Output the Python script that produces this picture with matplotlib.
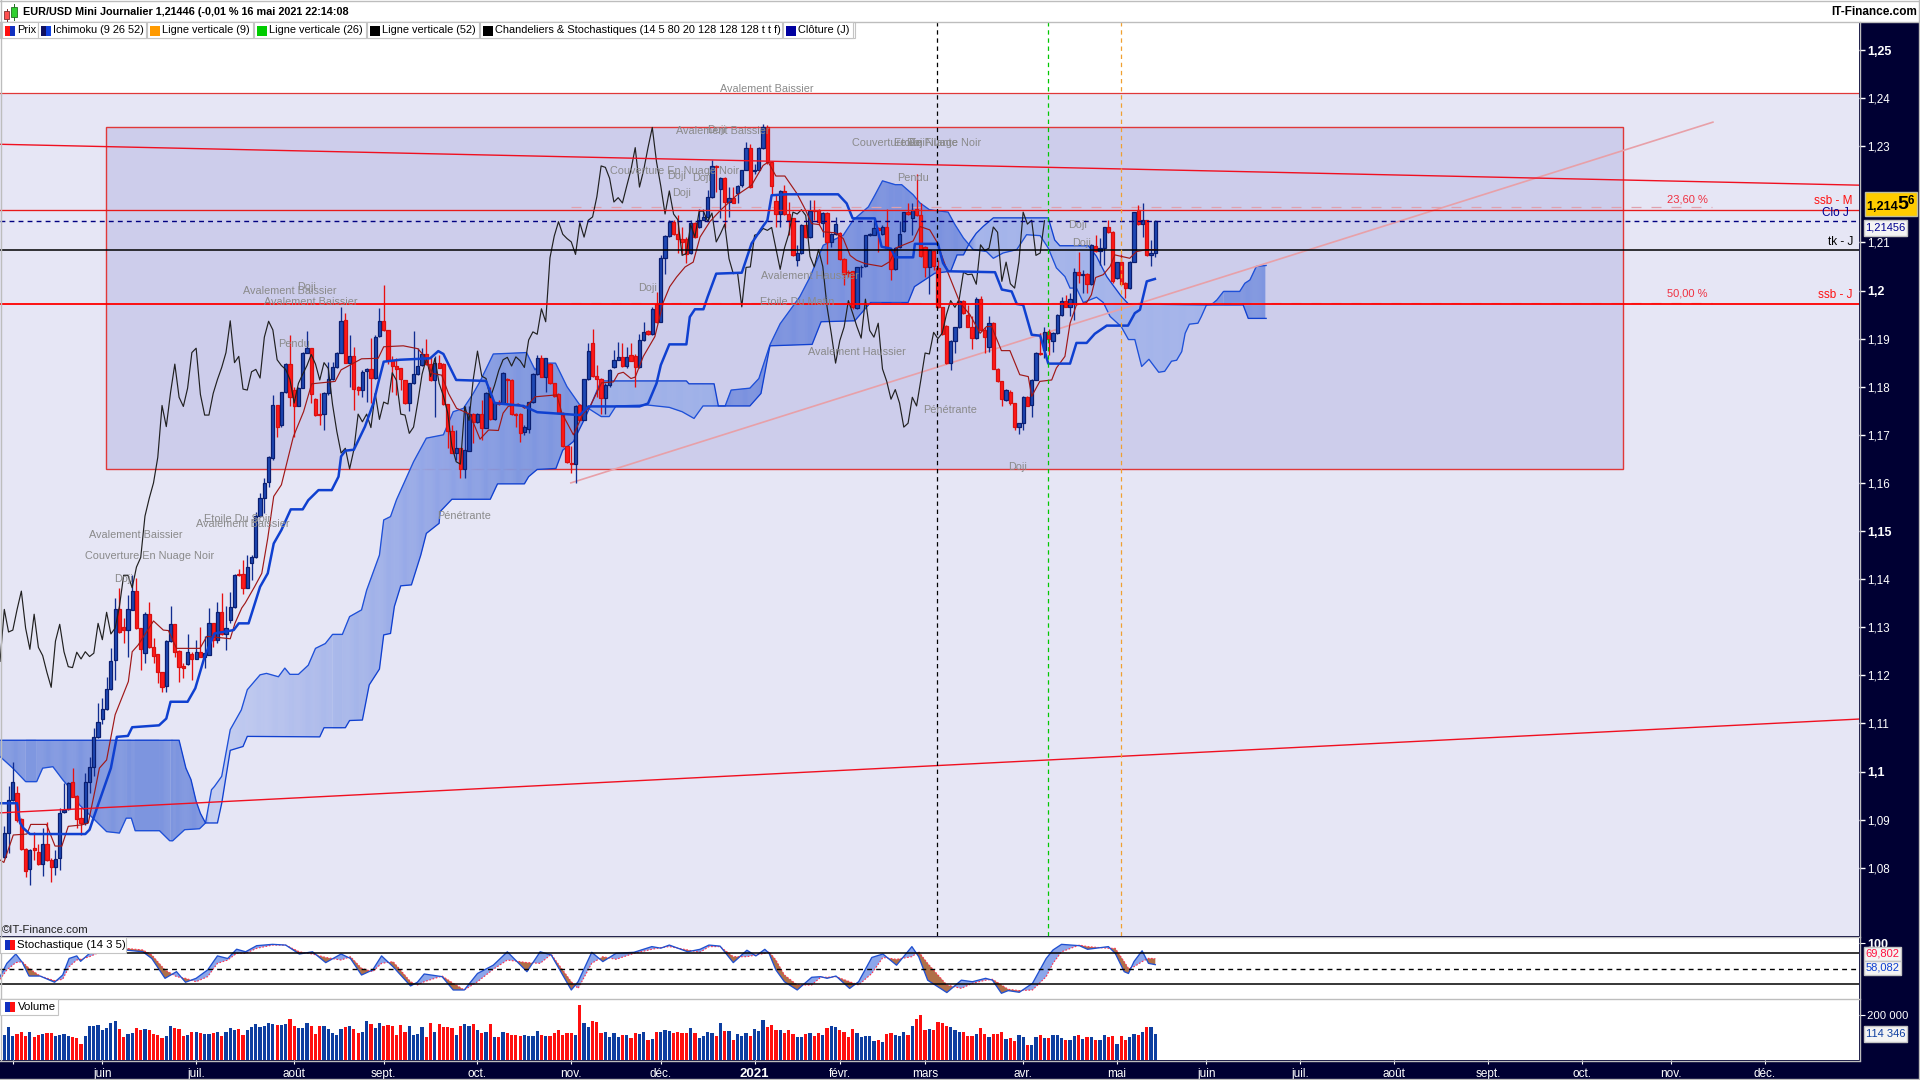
import numpy as np
import matplotlib
matplotlib.use("Agg")
import matplotlib.pyplot as plt
from matplotlib.collections import PolyCollection, LineCollection
from matplotlib.patches import Rectangle
from matplotlib.colors import to_rgb

plt.rcParams['font.family'] = ['Liberation Sans', 'DejaVu Sans']

# ---------- candles (EUR/USD daily) ----------
opens = [
1.0823,1.0872,1.0940,1.0955,1.0901,1.0838,1.0797,1.0840,1.0832,1.0807,
1.0849,1.0816,1.0801,1.0820,1.0915,1.0922,1.0978,1.0949,1.0903,1.0893,
1.0979,1.1010,1.1071,1.1110,1.1130,1.1171,1.1231,1.1337,1.1300,1.1294,
1.1336,1.1375,1.1298,1.1246,1.1327,1.1258,1.1244,1.1206,1.1177,1.1272,
1.1306,1.1250,1.1219,1.1223,1.1245,1.1233,1.1249,1.1239,1.1243,1.1308,
1.1274,1.1331,1.1286,1.1314,1.1343,1.1411,1.1410,1.1382,1.1434,1.1445,
1.1531,1.1568,1.1601,1.1651,1.1761,1.1720,1.1788,1.1847,1.1793,1.1759,
1.1797,1.1871,1.1880,1.1774,1.1743,1.1743,1.1786,1.1815,1.1840,1.1871,
1.1939,1.1850,1.1863,1.1800,1.1793,1.1832,1.1836,1.1818,1.1906,1.1936,
1.1918,1.1856,1.1844,1.1838,1.1813,1.1766,1.1807,1.1826,1.1845,1.1867,
1.1847,1.1813,1.1850,1.1847,1.1763,1.1707,1.1662,1.1672,1.1629,1.1667,
1.1743,1.1727,1.1743,1.1714,1.1783,1.1732,1.1769,1.1766,1.1815,1.1814,
1.1743,1.1743,1.1705,1.1712,1.1768,1.1826,1.1859,1.1821,1.1847,1.1807,
1.1785,1.1746,1.1677,1.1642,1.1639,1.1761,1.1730,1.1815,1.1890,1.1822,
1.1817,1.1777,1.1803,1.1841,1.1856,1.1862,1.1843,1.1865,1.1863,1.1840,
1.1897,1.1915,1.1909,1.1971,1.1935,1.2068,1.2113,1.2143,1.2118,1.2108,
1.2108,1.2077,1.2141,1.2131,1.2147,1.2153,1.2195,1.2259,1.2210,1.2233,
1.2184,1.2193,1.2203,1.2219,1.2251,1.2297,1.2248,1.2251,1.2297,1.2339,
1.2267,1.2186,1.2159,1.2207,1.2159,1.2150,1.2064,1.2077,1.2137,1.2111,
1.2168,1.2167,1.2141,1.2161,1.2101,1.2118,1.2120,1.2066,1.2039,1.2040,
1.1964,1.2048,1.2050,1.2115,1.2116,1.2129,1.2118,1.2132,1.2085,1.2044,
1.2090,1.2123,1.2164,1.2151,1.2169,1.2156,1.2090,1.2049,1.2083,1.2047,
1.1966,1.1927,1.1849,1.1894,1.1924,1.1979,1.1950,1.1925,1.1901,1.1982,
1.1917,1.1882,1.1932,1.1837,1.1811,1.1773,1.1788,1.1766,1.1716,1.1724,
1.1778,1.1761,1.1814,1.1871,1.1877,1.1913,1.1896,1.1911,1.1950,1.1979,
1.1965,1.1972,1.2038,1.2033,1.2034,1.2013,1.2093,1.2083,1.2088,1.2132,
1.2121,1.2026,1.2059,1.2015,1.2005,1.2060,1.2168,1.2138,1.2146,1.2073,
1.2078]
closes = [
1.0873,1.0940,1.0978,1.0899,1.0838,1.0794,1.0837,1.0836,1.0807,1.0849,
1.0815,1.0801,1.0818,1.0913,1.0920,1.0977,1.0948,1.0901,1.0893,1.0979,
1.1010,1.1071,1.1102,1.1130,1.1171,1.1229,1.1337,1.1290,1.1294,1.1337,
1.1375,1.1298,1.1254,1.1327,1.1258,1.1241,1.1206,1.1175,1.1271,1.1306,
1.1249,1.1218,1.1216,1.1248,1.1234,1.1249,1.1239,1.1246,1.1308,1.1274,
1.1331,1.1286,1.1298,1.1343,1.1408,1.1408,1.1382,1.1425,1.1445,1.1531,
1.1568,1.1600,1.1653,1.1761,1.1717,1.1788,1.1847,1.1778,1.1759,1.1797,
1.1871,1.1880,1.1784,1.1741,1.1741,1.1786,1.1815,1.1840,1.1871,1.1937,
1.1850,1.1863,1.1795,1.1793,1.1831,1.1836,1.1818,1.1903,1.1936,1.1918,
1.1856,1.1844,1.1836,1.1815,1.1766,1.1807,1.1826,1.1844,1.1867,1.1847,
1.1814,1.1850,1.1838,1.1763,1.1707,1.1662,1.1672,1.1629,1.1669,1.1743,
1.1727,1.1743,1.1715,1.1786,1.1732,1.1768,1.1764,1.1829,1.1813,1.1743,
1.1741,1.1703,1.1716,1.1768,1.1826,1.1859,1.1821,1.1859,1.1807,1.1781,
1.1746,1.1676,1.1644,1.1639,1.1759,1.1730,1.1815,1.1874,1.1822,1.1817,
1.1777,1.1803,1.1834,1.1856,1.1861,1.1843,1.1862,1.1854,1.1840,1.1897,
1.1914,1.1909,1.1962,1.1935,1.2068,1.2113,1.2143,1.2117,1.2108,1.2101,
1.2075,1.2141,1.2111,1.2146,1.2153,1.2195,1.2259,1.2256,1.2233,1.2184,
1.2193,1.2182,1.2217,1.2251,1.2297,1.2215,1.2251,1.2297,1.2339,1.2267,
1.2217,1.2159,1.2207,1.2159,1.2147,1.2073,1.2077,1.2137,1.2111,1.2165,
1.2165,1.2143,1.2161,1.2101,1.2118,1.2138,1.2066,1.2035,1.2037,1.1966,
1.2048,1.2049,1.2115,1.2118,1.2129,1.2125,1.2131,1.2088,1.2044,1.2088,
1.2117,1.2163,1.2159,1.2168,1.2156,1.2071,1.2049,1.2085,1.2050,1.1966,
1.1910,1.1849,1.1896,1.1924,1.1979,1.1953,1.1925,1.1901,1.1982,1.1917,
1.1903,1.1932,1.1837,1.1811,1.1774,1.1794,1.1766,1.1716,1.1724,1.1778,
1.1760,1.1814,1.1870,1.1868,1.1913,1.1900,1.1911,1.1950,1.1979,1.1965,
1.1982,1.2038,1.2033,1.2034,1.2013,1.2095,1.2083,1.2088,1.2132,1.2121,
1.2019,1.2059,1.2014,1.2005,1.2060,1.2163,1.2138,1.2146,1.2073,1.2078,
1.2145]
highs = [
1.0886,1.0970,1.1019,1.0969,1.0903,1.0841,1.0838,1.0875,1.0850,1.0882,
1.0894,1.0820,1.0837,1.0924,1.0976,1.0979,1.1007,1.0951,1.0927,1.0996,
1.1031,1.1090,1.1142,1.1152,1.1197,1.1256,1.1360,1.1381,1.1319,1.1367,
1.1409,1.1402,1.1298,1.1331,1.1352,1.1277,1.1245,1.1206,1.1274,1.1345,
1.1306,1.1252,1.1225,1.1286,1.1248,1.1274,1.1300,1.1281,1.1340,1.1308,
1.1352,1.1371,1.1345,1.1373,1.1411,1.1420,1.1440,1.1450,1.1450,1.1540,
1.1578,1.1610,1.1655,1.1783,1.1762,1.1790,1.1849,1.1908,1.1800,1.1799,
1.1873,1.1916,1.1880,1.1776,1.1786,1.1788,1.1852,1.1852,1.1873,1.1965,
1.1953,1.1908,1.1883,1.1802,1.1835,1.1838,1.1901,1.1908,1.1963,1.2012,
1.1918,1.1864,1.1859,1.1838,1.1814,1.1807,1.1916,1.1880,1.1880,1.1899,
1.1863,1.1863,1.1866,1.1849,1.1764,1.1721,1.1710,1.1672,1.1759,1.1759,
1.1745,1.1745,1.1772,1.1790,1.1800,1.1769,1.1772,1.1831,1.1818,1.1815,
1.1745,1.1745,1.1721,1.1769,1.1828,1.1866,1.1866,1.1860,1.1849,1.1807,
1.1786,1.1748,1.1677,1.1676,1.1762,1.1765,1.1817,1.1890,1.1919,1.1845,
1.1819,1.1807,1.1836,1.1876,1.1893,1.1890,1.1883,1.1890,1.1869,1.1910,
1.1935,1.1917,1.1966,1.1997,1.2073,1.2115,1.2146,1.2146,1.2156,1.2132,
1.2111,1.2146,1.2143,1.2170,1.2170,1.2208,1.2272,1.2260,1.2235,1.2236,
1.2215,1.2215,1.2219,1.2251,1.2309,1.2305,1.2264,1.2299,1.2347,1.2344,
1.2269,1.2198,1.2208,1.2219,1.2184,1.2151,1.2094,1.2139,1.2139,1.2188,
1.2188,1.2170,1.2163,1.2163,1.2120,1.2153,1.2122,1.2068,1.2042,1.2041,
1.2049,1.2052,1.2116,1.2120,1.2146,1.2132,1.2136,1.2169,1.2088,1.2090,
1.2144,1.2164,1.2182,1.2182,1.2243,1.2182,1.2093,1.2086,1.2085,1.2064,
1.1966,1.1929,1.1898,1.1925,1.1981,1.1981,1.1970,1.1946,1.1986,1.1988,
1.1925,1.1947,1.1934,1.1839,1.1812,1.1795,1.1794,1.1767,1.1724,1.1780,
1.1780,1.1816,1.1873,1.1911,1.1925,1.1920,1.1913,1.1951,1.1986,1.1991,
1.1995,1.2047,1.2081,1.2043,1.2036,1.2097,1.2116,1.2109,1.2133,1.2147,
1.2124,1.2060,1.2076,1.2017,1.2062,1.2164,1.2178,1.2182,1.2147,1.2105,
1.2146]
lows = [
1.0820,1.0830,1.0938,1.0896,1.0837,1.0780,1.0763,1.0816,1.0806,1.0782,
1.0813,1.0771,1.0785,1.0796,1.0913,1.0920,1.0947,1.0882,1.0868,1.0889,
1.0955,1.0990,1.1069,1.1099,1.1128,1.1170,1.1191,1.1288,1.1267,1.1239,
1.1336,1.1296,1.1210,1.1225,1.1256,1.1225,1.1185,1.1166,1.1166,1.1270,
1.1239,1.1187,1.1194,1.1222,1.1191,1.1233,1.1239,1.1215,1.1242,1.1258,
1.1267,1.1284,1.1252,1.1308,1.1340,1.1407,1.1369,1.1381,1.1398,1.1443,
1.1530,1.1538,1.1592,1.1648,1.1696,1.1717,1.1786,1.1759,1.1696,1.1759,
1.1797,1.1870,1.1766,1.1739,1.1721,1.1710,1.1783,1.1814,1.1838,1.1870,
1.1849,1.1800,1.1752,1.1783,1.1779,1.1769,1.1766,1.1815,1.1904,1.1915,
1.1847,1.1790,1.1783,1.1793,1.1764,1.1750,1.1806,1.1824,1.1842,1.1845,
1.1811,1.1737,1.1838,1.1762,1.1672,1.1662,1.1648,1.1610,1.1610,1.1667,
1.1682,1.1724,1.1689,1.1714,1.1731,1.1731,1.1762,1.1764,1.1766,1.1741,
1.1717,1.1686,1.1700,1.1703,1.1766,1.1824,1.1820,1.1788,1.1806,1.1779,
1.1745,1.1674,1.1642,1.1620,1.1600,1.1730,1.1730,1.1813,1.1820,1.1779,
1.1744,1.1744,1.1800,1.1838,1.1856,1.1840,1.1838,1.1854,1.1800,1.1838,
1.1895,1.1907,1.1907,1.1933,1.1935,1.2035,1.2111,1.2115,1.2077,1.2075,
1.2057,1.2075,1.2110,1.2130,1.2146,1.2147,1.2193,1.2205,1.2150,1.2129,
1.2152,1.2181,1.2182,1.2215,1.2250,1.2213,1.2243,1.2250,1.2295,1.2264,
1.2198,1.2131,1.2132,1.2158,1.2115,1.2071,1.2051,1.2075,1.2110,1.2110,
1.2146,1.2136,1.2111,1.2056,1.2091,1.2115,1.2064,1.2011,1.2028,1.1962,
1.1962,1.2028,1.2049,1.2114,1.2115,1.2080,1.2115,1.2086,1.2021,1.2043,
1.2088,1.2121,1.2157,1.2116,1.2155,1.2069,1.2028,1.1993,1.2043,1.1963,
1.1908,1.1847,1.1834,1.1870,1.1922,1.1951,1.1924,1.1879,1.1900,1.1915,
1.1871,1.1873,1.1837,1.1809,1.1760,1.1771,1.1762,1.1709,1.1702,1.1709,
1.1759,1.1737,1.1813,1.1866,1.1859,1.1865,1.1873,1.1910,1.1948,1.1965,
1.1948,1.1939,1.2015,1.1995,1.1995,1.2012,1.2081,1.2053,1.2053,1.2119,
1.2015,1.2024,1.2012,1.1984,1.2004,1.2059,1.2137,1.2111,1.2072,1.2050,
1.2069]

# ---------- Ichimoku, read at the visible knots ----------
tenkan_x = [-1,-0.1,2.1,5.3,6.2,9.9,11.9,13.5,15,18.2,19.7,21.3,22.3,24,26,29.1,30,31.4,35,37.3,38.5,40.4,45.9,47.5,53,54.1,55.7,56.5,58.7,60.4,61.8,63.2,65,67.8,70.2,72.1,77.6,79,83.8,87.7,89,93.6,97,98.3,100.3,102.6,104.2,106.1,109.2,111.6,113.6,115.9,117,118.2,120.6,122.1,124.5,129.6,130.8,133.5,135.8,137.4,140.1,142.9,144,145.2,147,148,149.9,152.6,154.6,156.1,157.7,159.7,161.6,163.2,165.5,167.9,171.8,175.3,178,179.2,181,183.1,185.9,187.8,189.4,191.2,192.1,194.9,196.8,198.4,199.9,201.9,205.8,207.7,209.3,213.2,214.8,217.1,218.7,221.4,224.2,226.5,228.9,230.4,231.6,233.9,235.9,238.2,240.2,241,242.9,245.7,246.8,248.8,250,251.5,253.9,255,256,257.8,259.4,260.5,264,265.6,268,270]
tenkan_y = [1.0816,1.0811,1.0868,1.0870,1.0890,1.0890,1.0845,1.0845,1.0886,1.0889,1.0893,1.0962,1.1007,1.1024,1.1118,1.1187,1.1249,1.1263,1.1313,1.1294,1.1293,1.1256,1.1256,1.1281,1.1276,1.1308,1.1340,1.1350,1.1384,1.1412,1.1485,1.1572,1.1596,1.1696,1.1748,1.1806,1.1811,1.1835,1.1858,1.1859,1.1883,1.1885,1.1879,1.1866,1.1828,1.1824,1.1786,1.1755,1.1743,1.1691,1.1710,1.1709,1.1745,1.1759,1.1764,1.1755,1.1779,1.1783,1.1745,1.1700,1.1744,1.1759,1.1808,1.1810,1.1827,1.1830,1.1817,1.1820,1.1863,1.1904,1.1976,1.2008,1.2028,1.2049,1.2059,1.2111,1.2143,1.2166,1.2198,1.2219,1.2260,1.2267,1.2238,1.2238,1.2202,1.2170,1.2139,1.2137,1.2122,1.2120,1.2108,1.2073,1.2063,1.2056,1.2050,1.2060,1.2089,1.2103,1.2133,1.2126,1.2102,1.2036,1.1974,1.1950,1.1911,1.1925,1.1925,1.1875,1.1875,1.1825,1.1821,1.1780,1.1811,1.1814,1.1839,1.1863,1.1932,1.1970,1.1975,1.1991,1.2027,1.2033,1.2050,1.2074,1.2067,1.2081,1.2085,1.2085]
kijun_x = [-1,3,3.7,4.5,6,19,20,21.3,25,26.4,29,30,36.3,38,39,43,44.8,47,49.3,53.8,55,57.3,60,61.8,63.2,65,67.2,70,71.3,73.7,76.8,78.4,79,80,82,84.6,86.6,87.7,89,92.8,99.9,101.8,103,106,113,115,121.8,125,130,135,137,149,151,153,154,156,160,160.8,162,164,165,167,173,175.3,178,179,180,183.5,195.6,197.6,199,204.2,205.8,208,209,213.2,213.6,219,220.2,221.4,232.4,234,236.3,237.5,239,241,243,244.9,250,251.5,253.9,255.8,258.6,263.6,265.2,266.4,268,269.9]
kijun_y = [1.0934,1.0934,1.0893,1.0882,1.0870,1.0870,1.0879,1.0913,1.1007,1.1072,1.1074,1.1092,1.1096,1.1110,1.1145,1.1145,1.1173,1.1239,1.1287,1.1294,1.1308,1.1308,1.1384,1.1412,1.1474,1.1502,1.1545,1.1545,1.1564,1.1585,1.1585,1.1613,1.1655,1.1667,1.1669,1.1717,1.1766,1.1807,1.1852,1.1856,1.1859,1.1874,1.1868,1.1814,1.1812,1.1766,1.1760,1.1747,1.1744,1.1741,1.1759,1.1759,1.1765,1.1807,1.1845,1.1888,1.1888,1.1945,1.1961,1.1961,1.1987,1.2035,1.2037,1.2098,1.2134,1.2146,1.2198,1.2200,1.2200,1.2181,1.2150,1.2150,1.2091,1.2087,1.2069,1.2069,1.2097,1.2097,1.2057,1.2040,1.2038,1.2002,1.1998,1.1972,1.1970,1.1908,1.1906,1.1848,1.1848,1.1891,1.1891,1.1910,1.1927,1.1927,1.1953,1.1960,1.2019,1.2024]
ssa_x = [-1,2,5,7.6,9,11.4,13.7,15.7,17.6,20.8,24,27,28.6,29.8,30.7,36.4,38.8,39.5,42.3,45.8,47.2,48.6,49.3,51,53,55.6,57,60,61.5,64.3,65.8,67,69,71.3,73,75.3,77,79.3,81,83.8,85,88,89,90.6,92,96,99,103,105.3,107.7,110,111.6,114.7,122.5,124.5,125.7,129.3,132,135,137,140,141.9,143.5,150.8,156,159,161.8,163.9,169.1,170.5,174.9,177,179.6,182,184.3,186.6,189,192.1,194.5,196.8,199.1,202.7,204.2,206,209,210.5,213.2,214.8,217,221.4,223,225,227.3,230.4,232,234.3,237.5,239.8,243,244.9,246.8,248.8,250,251.5,253.1,256.2,257.8,259.4,262,263.7,265.2,266.8,268.5,270.8,272.2,273.8,275,276.2,277,278,280,280.8,282,283.2,284.4,286,288.3,289.8,291,292.2,293.7,296]
ssa_y = [1.1031,1.1007,1.0979,1.0979,1.1007,1.1010,1.0983,1.0962,1.0931,1.0903,1.0875,1.0872,1.0903,1.0903,1.0877,1.0877,1.0856,1.0856,1.0879,1.0881,1.0893,1.0962,1.0969,1.0990,1.1087,1.1128,1.1170,1.1201,1.1204,1.1197,1.1215,1.1202,1.1202,1.1221,1.1256,1.1266,1.1285,1.1285,1.1322,1.1336,1.1377,1.1450,1.1523,1.1530,1.1565,1.1644,1.1693,1.1700,1.1748,1.1755,1.1786,1.1811,1.1868,1.1871,1.1835,1.1849,1.1849,1.1800,1.1762,1.1755,1.1738,1.1738,1.1760,1.1762,1.1757,1.1748,1.1734,1.1760,1.1760,1.1793,1.1797,1.1817,1.1887,1.1931,1.1959,1.1987,1.2028,1.2094,1.2105,1.2115,1.2146,1.2174,1.2198,1.2228,1.2220,1.2220,1.2199,1.2182,1.2168,1.2163,1.2137,1.2109,1.2085,1.2081,1.2067,1.2078,1.2085,1.2116,1.2114,1.2088,1.2047,1.2029,1.2005,1.2005,1.1975,1.1986,1.1975,1.1946,1.1925,1.1898,1.1898,1.1842,1.1857,1.1830,1.1832,1.1853,1.1855,1.1873,1.1911,1.1930,1.1932,1.1946,1.1970,1.1971,1.1980,1.1998,1.1998,1.1998,1.2015,1.2022,1.2050,1.2052]
ssb_x = [-1,41,42.6,43.8,45,46,47.2,50,51,53,56,57,74,75,80,81,84,85.6,88,89,90.6,91.5,93,95.5,97.7,99,102,102.2,105,114,115.7,122,123,125,129.4,131,133.5,136,137.4,140,160,160.6,166.5,167.5,174.9,177.5,179.6,189.5,191.6,199.5,203.2,212,213.5,218.3,222,223.5,225,226.5,228,229.6,232,244.9,246.4,247.6,254.3,256.2,258.6,260,262,263.7,282,290.6,291.8,296]
ssb_y = [1.1065,1.1065,1.1007,1.0983,1.0938,1.0913,1.0893,1.0893,1.0934,1.1044,1.1052,1.1073,1.1072,1.1091,1.1091,1.1106,1.1107,1.1180,1.1213,1.1284,1.1287,1.1343,1.1386,1.1388,1.1450,1.1495,1.1516,1.1540,1.1566,1.1566,1.1598,1.1598,1.1613,1.1628,1.1630,1.1668,1.1686,1.1731,1.1758,1.1812,1.1812,1.1806,1.1806,1.1760,1.1760,1.1786,1.1885,1.1888,1.1935,1.1937,1.1975,1.1975,1.2008,1.2036,1.2040,1.2074,1.2074,1.2100,1.2119,1.2133,1.2151,1.2151,1.2105,1.2093,1.2093,1.2071,1.2029,1.2012,1.1988,1.1972,1.1970,1.1970,1.1942,1.1942]

# ---------- levels and trend lines ----------
level_top = 1.2410
level_ssb_m = 1.2168
level_clo_j = 1.2145
level_tk_j = 1.2084
level_ssb_j = 1.1971
fibo_236 = 1.2173
fibo_500 = 1.1975
zone_low, zone_high = 1.1628, 1.2339
zone_start, zone_end = 23.86, 379.7
fibo_start, fibo_end = 132.9, 400.5
trend_x = [-1, 435]
trend_down = [1.2304, 1.2219]
trend_up = [1.0914, 1.1109]
pink_x = [132.9, 400.8]
pink_y = [1.1600, 1.2350]
vline_52, vline_26, vline_9 = 218.9, 244.9, 262.0

# ---------- stochastic ----------
stoch_x = [-1,0.6,2.7,4.2,5.8,8.4,11.8,13.7,15.2,17,17.9,20,22.6,28.3,32.5,34.6,37.7,40.4,42.5,45,47.7,50,52.4,54.5,56.6,59.2,62.9,66,69.2,72.3,75.4,79,81.2,83.8,86.4,88.5,91.2,95.3,96.9,98.5,102.7,105.3,107.9,111,114.7,118,122.6,125.7,128.3,133,134.6,137.8,140.4,143.5,147.7,151.9,154,156,160.3,163.2,
165.3,167.9,171,174.2,176.3,178.4,179.4,181,183,186,189.4,191.5,193,195.1,198.3,200.4,203.5,206.1,209.3,212.9,214.5,216.6,221.1,224.5,227.1,230.2,231.8,233.9,235.5,238.1,241.2,244.4,246,248,252.2,254.1,259,260.6,262.7,263.7,265,266.9,268.4,270]
stoch_k = [34.8,60.6,78.7,62.6,36,36,24,38,70,75,64.5,80,90,86.5,83,70,31.6,44.5,24,31.6,47.8,75,70,88,83,94.8,97.4,96,78.7,83,62,78.7,70,38,47.8,75,54,16.8,24,40,34.8,9,9,41,57,83,44.5,83,76.8,9,25,82,64,80,82,93,90,96,83,87.8,
96,94,62,86,75,87.8,80,47.8,25,9,33.6,34.8,31.6,36,12,25,72,78.7,57,93,73.5,28,4,28,25,31.6,28,2.6,7.8,4.5,22,70,86.5,97.4,94.8,87.8,93,80,44.5,41,64,85,60.6,58.08]
stoch_d = [29.7,47.8,62,63.9,51,36,27,29.7,54,67,68.4,73.5,83,89.7,86.5,76.8,47.8,34.8,31.6,25,34.8,60.6,67,80,80,89.7,96,96,83,78.7,72,67,73.5,51,44.5,60.6,63.9,25,18.7,25,36,22,9,25,49,67,62,60.6,78,25,12,60.6,73.5,68.4,80,87.8,91,93,86.5,82,
93,93,73.5,73.5,76.8,80,83,67,38,18.7,18.7,33.6,33.6,34.8,25,18.7,41,72,68.4,73.5,83,60.6,18.7,12,22,28,29.7,18.7,10.3,7.8,9,34.8,60.6,83,96,93,89.7,89.7,63.9,51,54,63.9,70.3,69.8]

# ---------- volume, thousands ----------
volume_k = [
111,148,108,116,123,107,123,101,111,116,120,120,108,111,114,108,101,99,71,108,
151,151,157,133,144,163,173,138,104,117,118,144,133,136,133,116,111,99,107,151,
141,138,108,111,123,124,118,116,116,120,126,107,126,141,133,138,111,133,145,158,
147,151,164,160,154,154,160,182,151,144,144,163,151,116,151,151,138,121,111,138,
145,151,138,118,126,173,160,141,164,151,156,151,111,156,126,151,111,116,148,104,
163,126,160,148,145,141,111,151,160,151,160,133,118,126,160,104,104,126,121,111,
111,107,111,107,107,129,111,107,107,118,133,111,118,118,111,244,163,148,173,170,
118,124,104,121,104,111,111,96,118,116,124,89,93,124,124,133,130,121,124,121,
121,144,120,96,107,124,118,107,164,129,129,89,116,107,118,107,138,129,178,145,
156,133,133,118,133,116,102,102,116,120,107,120,111,142,151,147,133,124,104,138,
120,102,107,107,86,89,80,116,120,111,107,124,111,151,182,200,133,138,133,169,
164,151,145,133,124,124,107,107,116,142,116,102,116,116,124,93,98,84,111,104,
67,67,102,111,98,98,111,111,98,89,89,107,111,93,102,102,89,89,111,102,
107,71,107,89,102,116,111,124,147,147,114]

# ---------- axis labels ----------
month_ticks = [2,23,45,68,89,111,133,154,176,196,216,239,261,282,304,326,348,370,391,413]
month_labels = ['','juin','juil.','août','sept.','oct.','nov.','déc.','2021','févr.','mars','avr.','mai','juin','juil.','août','sept.','oct.','nov.','déc.']
price_ticks = [1.08,1.09,1.10,1.11,1.12,1.13,1.14,1.15,1.16,1.17,1.18,1.19,1.20,1.21,1.23,1.24,1.25]
price_labels = ['1,08','1,09','1,1','1,11','1,12','1,13','1,14','1,15','1,16','1,17','1,18','1,19','1,2','1,21','1,23','1,24','1,25']
bold_prices = {'1,1','1,15','1,2','1,25'}

# ---------- texts ----------
pattern_texts = [
("Avalement Baissier",767,89),("Avalement Baissier",723,131),("Doji",717,130),
("Couverture En Nuage Noir",675,171),("Doji",677,176),("Doji",702,178),("Doji",682,193),
("Couverture En Nuage Noir",917,143),("Etoile Filante",926,143),("Doji",916,143),("Pendu",913,178),
("Avalement Haussier",810,276),("Etoile Du Matin",797,302),("Avalement Haussier",857,352),
("Pénétrante",950,410),("Doji",1018,467),("Doji",1078,225),("Doji",1082,243),("Doji",648,288),
("Avalement Baissier",290,291),("Doji",307,287),("Avalement Baissier",311,302),("Pendu",294,344),
("Avalement Baissier",136,535),("Couverture En Nuage Noir",150,556),("Doji",124,579),
("Etoile Du Soir",237,519),("Avalement Baissier",243,524),("Pénétrante",464,516),
]
legend_cells = [
("Prix",2,38,('#ff1010','#1030c0')),
("Ichimoku (9 26 52)",38,146,('#101060','#1040e0')),
("Ligne verticale (9)",147,253,('#ff9a00','#ff9a00')),
("Ligne verticale (26)",254,366,('#00cc00','#00cc00')),
("Ligne verticale (52)",367,479,('#000000','#000000')),
("Chandeliers & Stochastiques (14 5 80 20 128 128 128 t t f)",480,782,('#000000','#000000')),
("Clôture (J)",783,853,('#0000a0','#0000a0')),
]
kumo_color_i = [-1,47,48,60,70,85,92,105,120,135,138,166,169,226,228,282,284,296]
kumo_colors = ['#8098e0','#7c94df','#c4cef0','#bac5ee','#b0bdec','#a3b4e9','#9aace8','#8ea2e5','#8098e0','#7f96e0',
               '#9fb1e8','#9fb1e8','#7b92df','#7b92df','#a4b4ea','#a4b4ea','#7f96e0','#7f96e0']

# ---------- figure ----------
W, H = 1920, 1080
NAVY = '#000033'
fig = plt.figure(figsize=(W/100, H/100), dpi=100, facecolor=NAVY)

def pane(y0, y1):
    a = fig.add_axes([0, 1-y1/H, 1859/W, (y1-y0)/H])
    a.set_xlim(-1.009, 435.07)
    for s in a.spines.values():
        s.set_visible(False)
    return a

ax = pane(22, 936)
ax.set_ylim(1.25-(936-50)/4810, 1.25+(50-22)/4810)
ax.set_facecolor('white')
ax_s = pane(936.5, 998.5)
ax_s.set_ylim(-7.5, 112.6)
ax_v = pane(999, 1060)
ax_v.set_ylim(0, 271000)
ax_s.set_facecolor('white')
ax_v.set_facecolor('white')

idx = np.arange(len(closes))
O, C, Hi, Lo = map(np.array, (opens, closes, highs, lows))
up = C >= O

# backgrounds
BLUE_LINE = '#1e50d8'
ax.axhspan(ax.get_ylim()[0], level_top, color='#e6e6f5', lw=0, zorder=0)
ax.add_patch(Rectangle((zone_start, zone_low), zone_end-zone_start, zone_high-zone_low,
                       fc='#cdcdeb', ec='#e03838', lw=1.0, zorder=1))

# kumo
grid = np.arange(-1, 296, 0.25)
a_i = np.interp(grid, ssa_x, ssa_y)
b_i = np.interp(grid, ssb_x, ssb_y)
rgb = np.array([to_rgb(c) for c in kumo_colors])
cols = np.column_stack([np.interp(grid, kumo_color_i, rgb[:, k]) for k in range(3)])
quads = [[(grid[j], a_i[j]), (grid[j+1], a_i[j+1]), (grid[j+1], b_i[j+1]), (grid[j], b_i[j])]
         for j in range(len(grid)-1)]
ax.add_collection(PolyCollection(quads, facecolors=cols[:-1], edgecolors=cols[:-1], linewidths=0.3, zorder=2))
ax.plot(ssa_x, ssa_y, color=BLUE_LINE, lw=0.95, zorder=2.2)
ax.plot(ssb_x, ssb_y, color='#1040d0', lw=0.95, zorder=2.2)

# fibo & levels
for lv in (fibo_236, fibo_500):
    ax.plot([fibo_start, fibo_end], [lv, lv], color='#e0a0ac', lw=0.9, dashes=(8, 8), zorder=2.5)
ax.plot(pink_x, pink_y, color='#e8a0a8', lw=1.2, zorder=2.5)
ax.axhline(level_top, color='#e03838', lw=0.9, zorder=2.5)

# candles
wick_colors = ['#102c90' if u else '#e81010' for u in up]
ax.add_collection(LineCollection([[(i, Lo[i]), (i, Hi[i])] for i in idx], colors=wick_colors, linewidths=0.95, zorder=3))
ax.bar(idx, np.abs(C-O), bottom=np.minimum(O, C), width=0.76,
       color=['#1e48b4' if u else '#ff1a1a' for u in up],
       edgecolor=['#0a1e70' if u else '#d81010' for u in up], linewidth=0.9, zorder=3.2)

# ichimoku lines
chikou_x = np.arange(-1, len(closes)-26)
chikou_y = C[25:]
ax.plot(chikou_x, chikou_y, color='#202020', lw=0.85, zorder=4)
ax.plot(tenkan_x, tenkan_y, color='#a01818', lw=0.85, zorder=4.1)
ax.plot(kijun_x, kijun_y, color='#0f40d0', lw=1.8, zorder=4.2, solid_joinstyle='round')

# levels on top
ax.axhline(level_ssb_m, color='#e81818', lw=0.95, zorder=5)
ax.axhline(level_ssb_j, color='#ff0000', lw=1.3, zorder=5)
ax.axhline(level_tk_j, color='#000000', lw=1.1, zorder=5)
ax.axhline(level_clo_j, color='#000080', lw=1.0, dashes=(3.5, 3), zorder=5)
ax.plot(trend_x, trend_down, color='#f01020', lw=1.0, zorder=5)
ax.plot(trend_x, trend_up, color='#f01020', lw=1.0, zorder=5)
ax.axvline(vline_52, color='#000000', lw=0.9, dashes=(3.5, 3), zorder=5)
ax.axvline(vline_26, color='#00c800', lw=0.9, dashes=(3.5, 3), zorder=5)
ax.axvline(vline_9, color='#f0a030', lw=0.9, dashes=(3.5, 3), zorder=5)

# price axis
ax.yaxis.tick_right()
ax.set_yticks(price_ticks)
ax.set_yticklabels(price_labels)
ax.set_xticks([])
ax.tick_params(axis='y', direction='out', length=4, width=1, color='white', labelcolor='white', labelsize=8.4, pad=2)
for t in ax.get_yticklabels():
    if t.get_text() in bold_prices:
        t.set_fontweight('bold')
        t.set_fontsize(9)

# stochastic
sx, sk, sd = np.array(stoch_x), np.array(stoch_k), np.array(stoch_d)
ax_s.fill_between(sx, sk, sd, where=sk >= sd, interpolate=True, color='#8ca6ea', lw=0, zorder=2)
ax_s.fill_between(sx, sk, sd, where=sk < sd, interpolate=True, color='#b07048', lw=0, zorder=2)
ax_s.plot(sx, sd, color='#ff3050', lw=0.8, dashes=(1.5, 1.5), zorder=3)
ax_s.plot(sx, sk, color='#2050d0', lw=0.95, zorder=3.1)
ax_s.axhline(80, color='black', lw=1.1, zorder=4)
ax_s.axhline(20, color='black', lw=1.1, zorder=4)
ax_s.axhline(50, color='black', lw=1.0, dashes=(3.5, 3), zorder=4)
ax_s.yaxis.tick_right()
ax_s.set_yticks([100])
ax_s.set_yticklabels(['100'], fontweight='bold')
ax_s.set_xticks([])
ax_s.tick_params(axis='y', direction='out', length=4, color='white', labelcolor='white', labelsize=9, pad=2)

# volume
ax_v.bar(idx, np.array(volume_k)*1000, width=0.76, color=['#0d3ea0' if u else '#ff0f0f' for u in up], lw=0)
ax_v.yaxis.tick_right()
ax_v.set_yticks([200000])
ax_v.set_yticklabels(['200 000'])
ax_v.set_xticks(month_ticks)
ax_v.set_xticklabels(month_labels)
ax_v.tick_params(axis='y', direction='out', length=4, color='white', labelcolor='white', labelsize=8.2, pad=2)
ax_v.tick_params(axis='x', direction='out', length=3, color='white', labelcolor='white', labelsize=8.5, pad=3)
for t in ax_v.get_xticklabels():
    if t.get_text() == '2021':
        t.set_fontweight('bold')
        t.set_fontsize(9.5)

# overlay in pixels
ov = fig.add_axes([0, 0, 1, 1], zorder=20)
ov.set_xlim(0, W)
ov.set_ylim(H, 0)
ov.axis('off')
ov.patch.set_alpha(0)

def box(x0, y0, x1, y1, fc='white', ec='#bdbdbd', lw=1.0, z=2):
    ov.add_patch(Rectangle((x0, y0), x1-x0, y1-y0, fc=fc, ec=ec, lw=lw, zorder=z))

def label(x, y, s, ha='left', color='black', size=8, weight='normal', z=3):
    ov.text(x, y, s, ha=ha, va='center', color=color, fontsize=size, fontweight=weight, zorder=z)

for s, x, y in pattern_texts:
    label(x, y, s, ha='center', color='#8a8a8a', size=7.8)
label(2, 930, "©IT-Finance.com", size=8.2, color='#202020')

# top bars
box(0, 0, W, 21.5, ec='none', z=1.5)
box(0, 21.5, 855, 38, ec='#c4c4c4', lw=0.8)
ov.plot([0, W], [0.5, 0.5], color='#bdbdbd', lw=1, zorder=2)
ov.plot([0, W], [21.5, 21.5], color='#bdbdbd', lw=1, zorder=2)
ov.plot([0.5, 0.5], [0, 1060], color='#bdbdbd', lw=1, zorder=2)
ov.plot([1859.5, 1859.5], [21.5, 1060], color='#bdbdbd', lw=1, zorder=2)
for yy in (936.5, 998.5, 1060.5):
    ov.plot([0, 1859.5], [yy, yy], color='#bdbdbd', lw=1, zorder=2)
ov.plot([0, W], [1079, 1079], color='#bdbdbd', lw=1, zorder=2)
ov.plot([1919, 1919], [0, H], color='#bdbdbd', lw=1, zorder=2)

# title icon
ov.add_patch(Rectangle((4, 11), 5, 8, fc='#ff5050', ec='#803030', lw=0.6, zorder=3))
ov.plot([6.5, 6.5], [9, 21], color='#803030', lw=0.7, zorder=2.9)
ov.add_patch(Rectangle((11, 7), 6, 10, fc='#30d030', ec='#207020', lw=0.6, zorder=3))
ov.plot([14, 14], [4, 20], color='#207020', lw=0.7, zorder=2.9)
label(23, 12, "EUR/USD Mini Journalier 1,21446 (-0,01 % 16 mai 2021 22:14:08", size=7.8, weight='bold')
label(1917, 12, "IT-Finance.com", ha='right', size=8.5, weight='bold')

# legend row
for s, x0, x1, (c1, c2) in legend_cells:
    box(x0, 22, x1, 38, ec='#c4c4c4', lw=0.8)
    ov.add_patch(Rectangle((x0+3, 25.5), 5, 10, fc=c1, ec='none', zorder=3))
    ov.add_patch(Rectangle((x0+8, 25.5), 5, 10, fc=c2, ec='none', zorder=3))
    label(x0+15, 30.3, s, size=7.9)

# sub pane legends
box(0, 937, 126, 953, ec='#c4c4c4', lw=0.8)
ov.add_patch(Rectangle((5, 940), 5, 10, fc='#1030c0', ec='none', zorder=3))
ov.add_patch(Rectangle((10, 940), 5, 10, fc='#ff1010', ec='none', zorder=3))
label(17, 945, "Stochastique (14 3 5)", size=8.2)
box(0, 999, 58, 1015, ec='#c4c4c4', lw=0.8)
ov.add_patch(Rectangle((5, 1002), 5, 10, fc='#1030c0', ec='none', zorder=3))
ov.add_patch(Rectangle((10, 1002), 5, 10, fc='#ff1010', ec='none', zorder=3))
label(18, 1007, "Volume", size=8.2)

# right labels
label(1853, 201, "ssb - M", ha='right', color='#ff1010', size=8.5)
label(1849, 213.5, "Clo J", ha='right', color='#000090', size=8.5)
label(1853, 242, "tk - J", ha='right', color='#000000', size=8.5)
label(1853, 295, "ssb - J", ha='right', color='#ff1010', size=8.5)
label(1687, 199, "23,60 %", ha='center', color='#f03040', size=8)
label(1687, 294, "50,00 %", ha='center', color='#f03040', size=8)

# price flags
box(1865, 192, 1917, 216, fc='#ffcc00', ec='#c0c0a0')
label(1866, 207, "1,214", size=9.2, weight='bold')
label(1897.5, 204.5, "5", size=14, weight='bold')
label(1908, 201, "6", size=8.5, weight='bold')
box(1864, 220, 1907, 236, fc='#f4f4f4', ec='#c4c4c4')
label(1885.5, 228, "1,21456", ha='center', color='#000090', size=8)
box(1864, 947, 1901, 961, fc='#f4f4f4', ec='#c4c4c4')
label(1882.5, 954, "69,802", ha='center', color='#ff1040', size=8)
box(1864, 961, 1901, 975, fc='#f4f4f4', ec='#c4c4c4')
label(1882.5, 968, "58,082", ha='center', color='#1040d0', size=8)
box(1864, 1026, 1907, 1042, fc='#f4f4f4', ec='#c4c4c4')
label(1885.5, 1034, "114 346", ha='center', color='#0d3ea0', size=8)

fig.savefig('out.png', dpi=100, facecolor=fig.get_facecolor())
